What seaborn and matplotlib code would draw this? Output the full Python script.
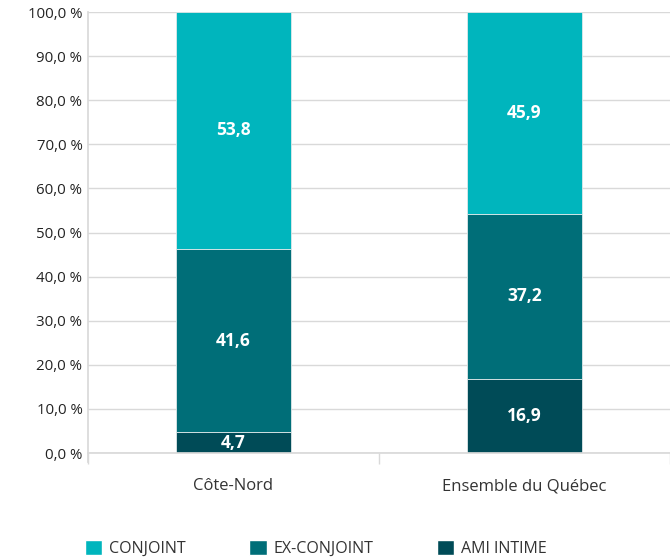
import matplotlib
matplotlib.use("Agg")
import matplotlib.pyplot as plt
import seaborn as sns
from matplotlib.patches import Patch

# ---------- data ----------
regions = ["Côte-Nord", "Ensemble du Québec"]
series_names = ["AMI INTIME", "EX-CONJOINT", "CONJOINT"]  # stacked bottom -> top
ami_intime = [4.7, 16.9]
ex_conjoint = [41.6, 37.2]
conjoint = [53.8, 45.9]
yticks = [0, 10, 20, 30, 40, 50, 60, 70, 80, 90, 100]

colors = {"CONJOINT": "#00B5BD", "EX-CONJOINT": "#006E78", "AMI INTIME": "#004B57"}

sns.set_theme(style="white")
plt.rcParams["font.family"] = ["Open Sans", "DejaVu Sans"]

fig = plt.figure(figsize=(6.7, 5.6), dpi=100)
ax = fig.add_axes([0.1313, 0.191, 0.8687, 0.7875])

bottom = [0.0, 0.0]
for name, vals in zip(series_names, [ami_intime, ex_conjoint, conjoint]):
    sns.barplot(x=regions, y=vals, bottom=bottom, color=colors[name], width=0.395,
                edgecolor="#dfe8e9", linewidth=0.6, ax=ax, saturation=1)
    for i, v in enumerate(vals):
        ax.text(i, bottom[i] + min(v, 100 - bottom[i]) / 2, f"{v:.1f}".replace(".", ","),
                ha="center", va="center", color="white", fontsize=12.5, fontweight="bold")
    bottom = [b + v for b, v in zip(bottom, vals)]

ax.set_ylim(0, 100)
ax.set_xlim(-0.5, 1.466)
ax.set_yticks(yticks)
ax.set_yticklabels([f"{t:.1f} %".replace(".", ",") for t in yticks], fontsize=10.8, color="#222222")
ax.yaxis.grid(True, color="#d9d9d9", linewidth=1)
ax.set_axisbelow(True)

# category separators as tick marks
ax.set_xticks([-0.5, 0.5, 1.5], minor=True)
ax.tick_params(axis="x", which="minor", length=8, width=1, color="#d9d9d9", bottom=True)
ax.tick_params(axis="x", which="major", length=0, pad=18, labelsize=12, labelcolor="#333333")
ax.tick_params(axis="y", length=0, pad=4)

for s in ["top", "right"]:
    ax.spines[s].set_visible(False)
ax.spines["left"].set_color("#d9d9d9")
ax.spines["bottom"].set_color("#d9d9d9")
ax.spines["left"].set_bounds(-2, 100)
ax.set_xlabel("")
ax.set_ylabel("")

handles = [Patch(facecolor=colors[n], label=n) for n in ["CONJOINT", "EX-CONJOINT", "AMI INTIME"]]
fig.legend(handles=handles, loc="lower left", bbox_to_anchor=(0.105, -0.02), ncol=3, frameon=False,
           handlelength=1.1, handleheight=1.1, handletextpad=0.4, columnspacing=4.0,
           prop={"size": 11.5}, labelcolor="#333333")

fig.savefig("out.png", dpi=100)
